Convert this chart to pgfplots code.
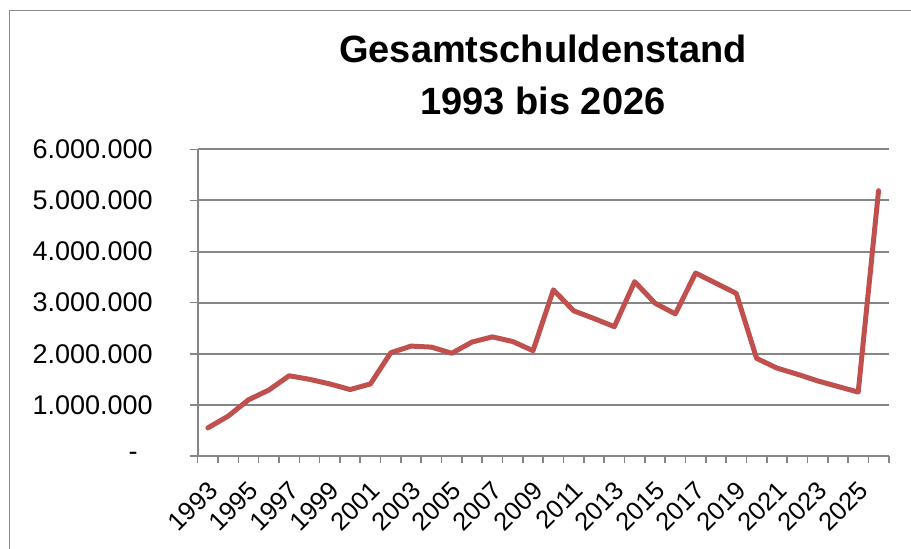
\documentclass[border=0pt]{standalone}
\usepackage{pgfplots}
\pgfplotsset{compat=1.18}
\usepackage{fontspec}
\setmainfont{Liberation Sans}
\definecolor{lred}{HTML}{C0504D}
\definecolor{axgray}{HTML}{868686}
\definecolor{framegray}{HTML}{8C8C8C}
\begin{document}
\begin{tikzpicture}
\useasboundingbox (0pt,0pt) rectangle (911pt,549pt);
\draw[framegray, line width=1.6pt] (9.3pt,-2pt) -- (9.3pt,538.3pt) -- (913pt,538.3pt);
\begin{axis}[
  at={(197.7pt,93pt)}, anchor=south west,
  scale only axis, width=691pt, height=306.7pt,
  xmin=1992.5, xmax=2026.5, ymin=0, ymax=6000000,
  axis lines=left,
  axis line style={draw=axgray, line width=2pt, -},
  tick align=outside,
  tick style={draw=axgray, line width=1.6pt},
  major tick length=7.5pt,
  minor tick length=7.5pt,
  xtick={1993,1995,...,2025},
  xticklabels={1993,1995,1997,1999,2001,2003,2005,2007,2009,2011,2013,2015,2017,2019,2021,2023,2025},
  minor xtick={1992.5,1993.5,...,2026.5},
  major x tick style={draw=none},
  xticklabel shift=20pt,
  x tick label style={xshift=7.5pt, rotate=45, anchor=east, font=\fontsize{25.5}{30}\selectfont},
  ytick={0,1000000,2000000,3000000,4000000,5000000,6000000},
  yticklabels={-\kern15pt,1.000.000,2.000.000,3.000.000,4.000.000,5.000.000,6.000.000},
  y tick label style={font=\fontsize{27}{31}\selectfont, anchor=east, xshift=-34pt},
  ymajorgrids,
  major grid style={draw=axgray, line width=2pt},
  scaled y ticks=false,
  clip=false,
]
\addplot[lred, line width=5pt, line join=round, line cap=round] coordinates {
(1993,550000) (1994,780000) (1995,1100000) (1996,1290000) (1997,1570000)
(1998,1500000) (1999,1410000) (2000,1300000) (2001,1410000) (2002,2020000)
(2003,2150000) (2004,2130000) (2005,2010000) (2006,2230000) (2007,2330000)
(2008,2240000) (2009,2060000) (2010,3250000) (2011,2840000) (2012,2690000)
(2013,2530000) (2014,3410000) (2015,2990000) (2016,2780000) (2017,3580000)
(2018,3380000) (2019,3180000) (2020,1910000) (2021,1720000) (2022,1600000)
(2023,1470000) (2024,1360000) (2025,1250000) (2026,5190000)
};
\end{axis}
\node[font=\bfseries\fontsize{38}{52}\selectfont, align=center, anchor=base] at (543pt,434pt) {Gesamtschuldenstand\\1993 bis 2026};
\end{tikzpicture}
\end{document}
